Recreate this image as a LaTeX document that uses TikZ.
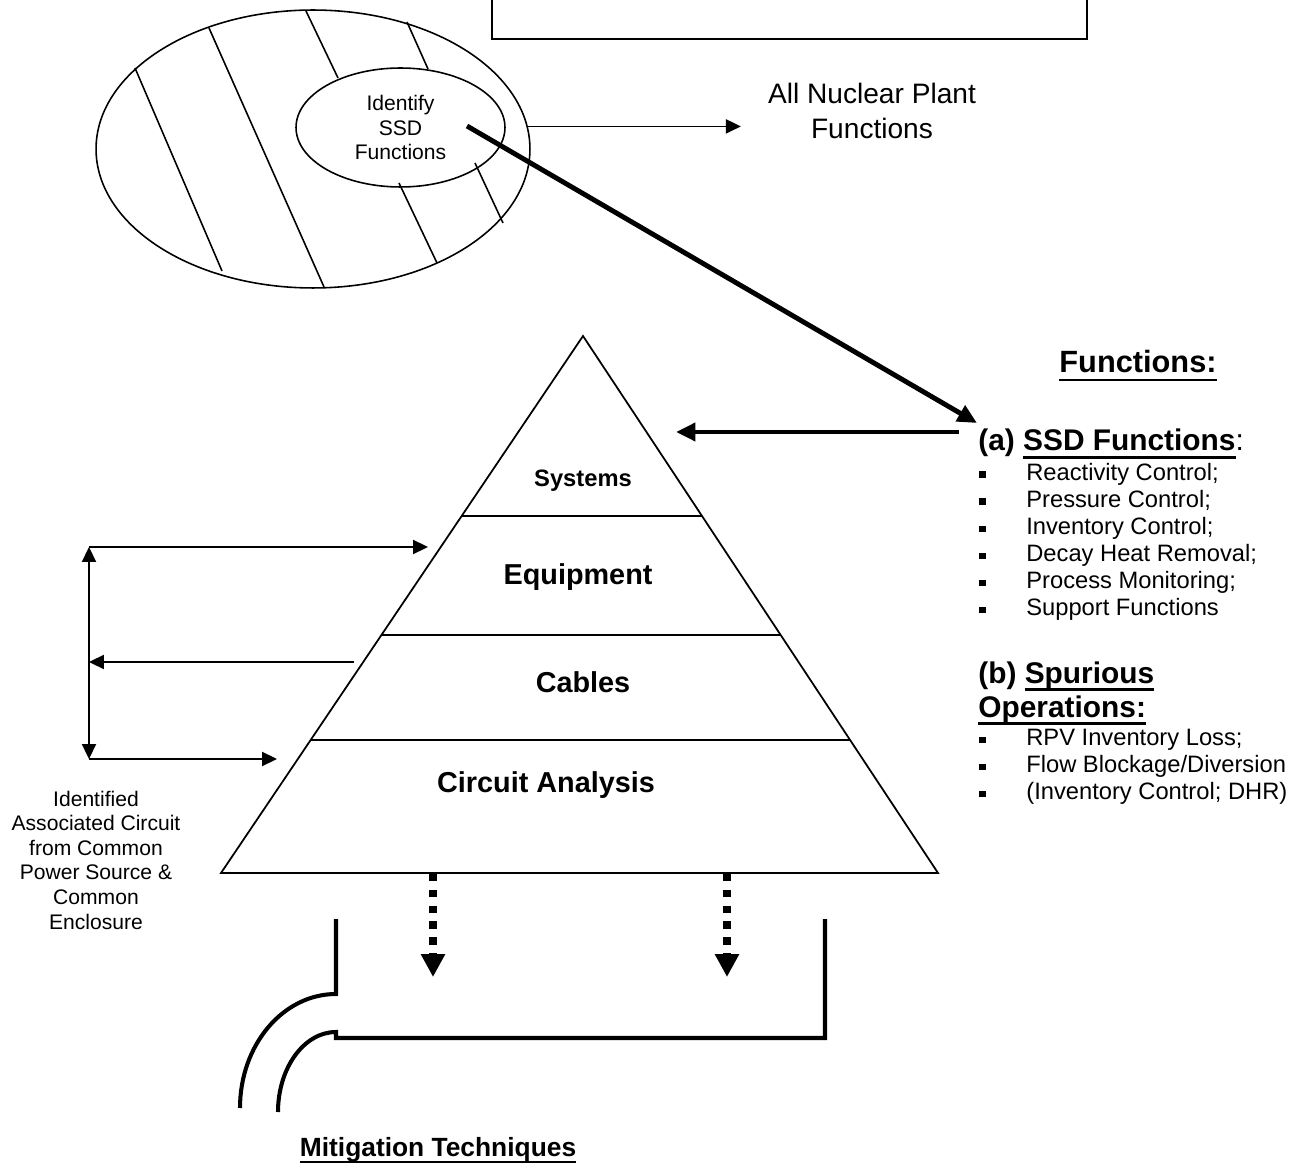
\documentclass[tikz,border=0pt]{standalone}
\usepackage{fontspec}
\setmainfont{Liberation Sans}
\usepackage{tikz}
\usetikzlibrary{arrows.meta,positioning,shapes.geometric,calc}
\newsavebox{\ulbox}
\newcommand{\ulin}[1]{\sbox{\ulbox}{#1}\rlap{\rule[-0.26em]{\wd\ulbox}{1.3pt}}\usebox{\ulbox}}
\newcommand{\sqbul}{\makebox[0.94cm][l]{\raisebox{1.6pt}{\rule{3.6pt}{3.6pt}}}}

\begin{document}
\begin{tikzpicture}[x=0.02cm, y=-0.02cm,
    ringnode/.style={ellipse, draw, line width=0.9pt, inner sep=0pt},
    hatchline/.style={line width=0.9pt},
    tierline/.style={line width=1pt},
    thinarr/.style={-{Triangle[length=8.5pt,width=8pt]}, line width=1pt},
    thindbl/.style={{Triangle[length=8.5pt,width=8pt]}-{Triangle[length=8.5pt,width=8pt]}, line width=1pt},
    boldarr/.style={-{Triangle[length=11pt,width=10pt]}, line width=2.8pt},
    dotarr/.style={-{Triangle[length=13pt,width=13pt]}, line width=4.5pt, dash pattern=on 4.2pt off 4.8pt},
    pipeline/.style={line width=2.3pt},
    sidelabel/.style={font=\fontsize{12}{14}\selectfont, align=center, inner sep=0pt},
    tierlabel/.style={font=\fontsize{16.4}{19}\selectfont\bfseries, anchor=base, inner sep=0pt},
    headtext/.style={font=\fontsize{17}{19.3}\selectfont\bfseries, anchor=base west, inner sep=0pt},
    listtext/.style={font=\fontsize{13.5}{15.4}\selectfont, align=left, anchor=north west, inner sep=0pt},
]
\useasboundingbox (0,0) rectangle (1305,1165);

% top box (cut off)
\draw[line width=1pt] (492,-20) rectangle (1087,39);

% plant functions ellipse
\node[ringnode, minimum width=8.68cm, minimum height=5.56cm] (plant) at (313,149) {};
\node[ringnode, minimum width=4.18cm, minimum height=2.38cm, font=\fontsize{12}{14}\selectfont, align=center] (ssdfun) at (400.5,127.5) {Identify\\SSD\\Functions};
\draw[hatchline] (135,68) -- (222,271);
\draw[hatchline] (209,28) -- (324,287);
\draw[hatchline] (306,11) -- (338,78);
\draw[hatchline] (407,22) -- (428,69);
\draw[hatchline] (399,183) -- (437,263);
\draw[hatchline] (475,163) -- (503,223);

\node[font=\fontsize{16}{20}\selectfont, align=center, inner sep=0pt] (allfun) at (872,111) {All Nuclear Plant\\Functions};
\draw[thinarr] (plant.6) -- +(213,0);

% pyramid
\coordinate (apex) at (583,336);
\coordinate (bl) at (221,873);
\coordinate (br) at (938,873);
\draw[tierline] (apex) -- (bl) -- (br) -- cycle;
\draw[tierline] ($(apex)!0.3352!(bl)$) -- ($(apex)!0.3352!(br)$);
\draw[tierline] ($(apex)!0.5568!(bl)$) -- ($(apex)!0.5568!(br)$);
\draw[tierline] ($(apex)!0.7523!(bl)$) -- ($(apex)!0.7523!(br)$);
\node[tierlabel, font=\fontsize{13.5}{16}\selectfont\bfseries] (sys) at (583,487) {Systems};
\node[tierlabel] (equip) at (578,584) {Equipment};
\node[tierlabel] (cab) at (583,692) {Cables};
\node[tierlabel] (circ) at (546,792) {Circuit Analysis};

% functions list
\node[headtext, anchor=base, font=\fontsize{17.5}{20}\selectfont\bfseries] (funhead) at (1138,373) {\ulin{Functions:}};
\node[headtext] (ssdhead) at (978,451) {(a) \ulin{SSD Functions}\textmd{:}};
\node[listtext] (ssdlist) at (979,463) {\sqbul Reactivity Control;\\\sqbul Pressure Control;\\\sqbul Inventory Control;\\\sqbul Decay Heat Removal;\\\sqbul Process Monitoring;\\\sqbul Support Functions};
\node[headtext] (spurhead) at (978,683) {(b) \ulin{Spurious}};
\node[headtext] (ophead) at (978,717) {\ulin{Operations:}};
\node[listtext] (spurlist) at (979,729) {\sqbul RPV Inventory Loss;\\\sqbul Flow Blockage/Diversion\\\sqbul (Inventory Control; DHR)};

\draw[boldarr] (467,126) -- ([shift={(-1,-6)}]ssdhead.north west);
\coordinate (sysin) at (676,432);
\draw[boldarr] ([shift={(-19,-19)}]ssdhead.base west) -- (sysin);

% associated circuits
\coordinate (lt) at (89,547);
\coordinate (lb) at (89,759);
\coordinate (eqin) at (428,547);
\coordinate (cabout) at (354,662);
\coordinate (caain) at (277,759);
\draw[thindbl] (lt) -- (lb);
\draw[thinarr] (lt) -- (eqin);
\draw[thinarr] (cabout) -- (lt |- cabout);
\draw[thinarr] (lb) -- (caain);
\node[sidelabel] (circlbl) at (96,860) {Identified\\Associated Circuit\\from Common\\Power Source \&\\Common\\Enclosure};

% mitigation
\draw[dotarr] (433,874) -- (433,977);
\draw[dotarr] (727,874) -- (727,977);
\draw[pipeline] (336,919) -- (336,994) .. controls (283,994) and (240,1045) .. (240,1108);
\draw[pipeline] (825,919) -- (825,1038) -- (336,1038) -- (336,1032) .. controls (304,1032) and (278,1068) .. (278,1112);
\node[font=\fontsize{15}{18}\selectfont\bfseries, anchor=base, inner sep=0pt] (mitig) at (438,1156) {\ulin{Mitigation Techniques}};
\end{tikzpicture}
\end{document}
